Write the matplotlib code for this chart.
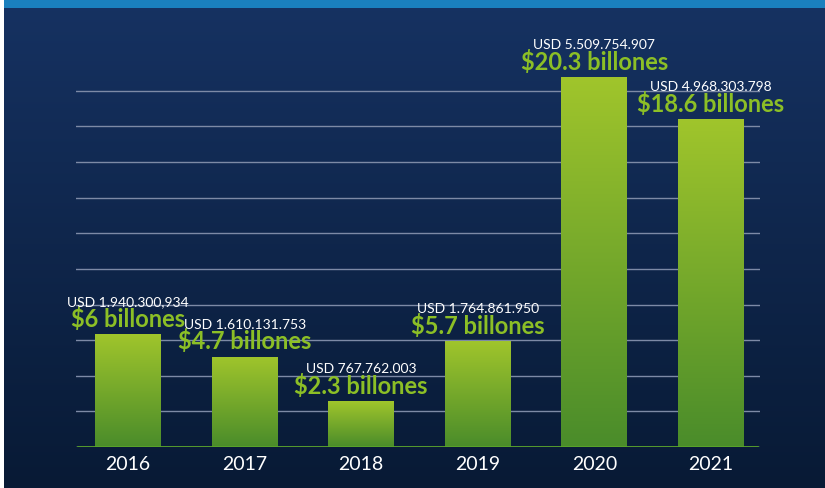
import numpy as np
import matplotlib.pyplot as plt
from matplotlib.patches import Rectangle
from matplotlib.colors import LinearSegmentedColormap

plt.rcParams['font.family'] = ['Lato', 'DejaVu Sans']

# datos (alturas de barra, en billones)
years = ["2016", "2017", "2018", "2019", "2020", "2021"]
bar_heights = [6.2, 4.95, 2.5, 5.8, 20.3, 18.0]
usd_labels = ["USD 1.940.300,934", "USD 1.610.131.753", "USD 767.762.003",
              "USD 1.764.861.950", "USD 5.509.754.907", "USD 4.968.303.798"]
green_labels = ["$6 billones", "$4.7 billones", "$2.3 billones",
                "$5.7 billones", "$20.3 billones", "$18.6 billones"]

W, H = 825, 489
fig = plt.figure(figsize=(W / 100, H / 100), dpi=100)

# fondo con degradado
bg = fig.add_axes([0, 0, 1, 1], zorder=0)
bg_cmap = LinearSegmentedColormap.from_list("bg", ["#081a35", "#163262"])
bg.imshow(np.linspace(0, 1, 256).reshape(-1, 1), cmap=bg_cmap, aspect="auto",
          origin="lower", extent=[0, 1, 0, 1])
bg.set_xlim(0, 1)
bg.set_ylim(0, 1)
bg.axis("off")
bg.add_patch(Rectangle((0, 1 - 9 / H), 1, 9 / H, color="#1a80be", lw=0))
bg.add_patch(Rectangle((0, 0), 4 / W, 1, color="white", lw=0))

# ejes principales
left, right, base, top = 76, 760, 448, 60
ax = fig.add_axes([left / W, (H - base) / H, (right - left) / W, (base - top) / H],
                  zorder=1)
ax.patch.set_alpha(0)

x = np.arange(len(years))
ymax = 21.3
ax.set_xlim(-0.446, 5.42)
ax.set_ylim(0, ymax)

ax.set_yticks(np.linspace(0, 19.55, 11))
ax.yaxis.grid(True, color="#7d8aa6", linewidth=1)
ax.set_axisbelow(True)
ax.tick_params(axis="y", length=0, labelleft=False)
ax.tick_params(axis="x", length=0, colors="white", labelsize=14, pad=6)
ax.set_xticks(x)
ax.set_xticklabels(years)
for s in ax.spines.values():
    s.set_visible(False)

bar_cmap = LinearSegmentedColormap.from_list("bar", ["#4a8c2a", "#a0c52c"])
bars = ax.bar(x, bar_heights, width=0.566, color="none", zorder=2)
grad = np.linspace(0, 1, 256).reshape(-1, 1)
for b in bars:
    bx, by = b.get_x(), b.get_y()
    im = ax.imshow(grad, cmap=bar_cmap, aspect="auto", origin="lower",
                   extent=[bx, bx + b.get_width(), by, by + b.get_height()],
                   zorder=2)
    im.set_clip_path(b)

ax.set_xlim(-0.446, 5.42)
ax.set_ylim(0, ymax)
ax.axhline(0, xmin=2 / (right - left), xmax=1 - 3 / (right - left),
           color="#5aa52a", linewidth=2, zorder=3)

for xi, v, u, g in zip(x, bar_heights, usd_labels, green_labels):
    ax.annotate(g, xy=(xi, v), xytext=(0, 6), textcoords="offset points",
                ha="center", va="baseline", color="#8cbf26", fontsize=17,
                fontweight="bold", zorder=4)
    ax.annotate(u, xy=(xi, v), xytext=(0, 21), textcoords="offset points",
                ha="center", va="baseline", color="white", fontsize=10,
                zorder=4)

fig.savefig("out.png", dpi=100)
